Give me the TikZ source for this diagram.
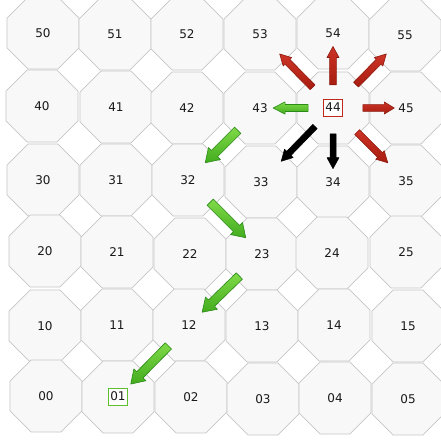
\documentclass[tikz,border=0pt]{standalone}
\usepackage{fontspec}
\setmainfont{DejaVu Sans}
\usetikzlibrary{shapes.geometric,calc}
\definecolor{octfill}{HTML}{F8F8F8}
\definecolor{octline}{HTML}{C6C6C6}
\definecolor{redtop}{HTML}{CC3426}
\definecolor{redbot}{HTML}{A81C10}
\definecolor{redline}{HTML}{8E1A10}
\definecolor{greentop}{HTML}{80DA48}
\definecolor{greenbot}{HTML}{42AC1E}
\definecolor{greenline}{HTML}{2A8A18}
\definecolor{boxred}{HTML}{C0281C}
\definecolor{boxgreen}{HTML}{5EC02E}
\newcommand\fatarr[8]{% style, from, to, start frac, end frac, half shaft, half head, head length
  \coordinate (t) at ($(#2)!#4!(#3)$);
  \coordinate (h) at ($(#2)!#5!(#3)$);
  \coordinate (nk) at ($(h)!#8!(t)$);
  \draw[#1] ($(t)!#6!90:(h)$) -- ($(nk)!#6!-90:(t)$) -- ($(nk)!#7!-90:(t)$) -- (h)
    -- ($(nk)!#7!90:(t)$) -- ($(nk)!#6!90:(t)$) -- ($(t)!#6!-90:(h)$) -- cycle;
}
\newcommand\cellbox[2]{{\setlength\fboxsep{1.8pt}\setlength\fboxrule{1pt}\fcolorbox{#1}{white}{\rule[-3pt]{0pt}{12.5pt}#2}}}
\begin{document}
\begin{tikzpicture}[x=1pt,y=-1pt,
  oct/.style={regular polygon, regular polygon sides=8, minimum size=78pt, inner sep=0pt,
    draw=octline, fill=octfill, line width=0.7pt, text=black!90, font=\fontsize{12}{14}\selectfont},
  redarr/.style={top color=redtop, bottom color=redbot, draw=redline, line width=0.6pt, line join=round},
  greenarr/.style={top color=greentop, bottom color=greenbot, draw=greenline, line width=0.6pt, line join=round},
  blackarr/.style={fill=black, draw=black, line width=0.5pt, line join=round}]
\useasboundingbox (0,0) rectangle (441,442);
% row 5
\node[oct] (n50) at (43,33) {50};
\node[oct] (n51) at (115,34) {51};
\node[oct] (n52) at (187,34) {52};
\node[oct] (n53) at (260,34) {53};
\node[oct] (n54) at (333,33) {54};
\node[oct] (n55) at (405,35) {55};
% row 4
\node[oct] (n40) at (42,106) {40};
\node[oct] (n41) at (116,107) {41};
\node[oct] (n42) at (187,108) {42};
\node[oct] (n43) at (260,108) {43};
\node[oct] (n44) at (333,108) {\cellbox{boxred}{44}};
\node[oct] (n45) at (406,108) {45};
% row 3
\node[oct] (n30) at (43,180) {30};
\node[oct] (n31) at (116,180) {31};
\node[oct] (n32) at (188,180) {32};
\node[oct] (n33) at (261,182) {33};
\node[oct] (n34) at (333,182) {34};
\node[oct] (n35) at (406,181) {35};
% row 2
\node[oct] (n20) at (45,251) {20};
\node[oct] (n21) at (117,252) {21};
\node[oct] (n22) at (190,254) {22};
\node[oct] (n23) at (262,254) {23};
\node[oct] (n24) at (332,253) {24};
\node[oct] (n25) at (406,252) {25};
% row 1
\node[oct] (n10) at (45,326) {10};
\node[oct] (n11) at (117,325) {11};
\node[oct] (n12) at (189,325) {12};
\node[oct] (n13) at (262,326) {13};
\node[oct] (n14) at (334,325) {14};
\node[oct] (n15) at (408,326) {15};
% row 0
\node[oct] (n00) at (46,396) {00};
\node[oct] (n01) at (118,397) {\cellbox{boxgreen}{01}};
\node[oct] (n02) at (191,397) {02};
\node[oct] (n03) at (263,399) {03};
\node[oct] (n04) at (335,398) {04};
\node[oct] (n05) at (408,399) {05};
% arrows from 44
\fatarr{redarr}{n44}{n54}{0.31}{0.82}{3.4pt}{6pt}{11pt}
\fatarr{redarr}{n44}{n53}{0.28}{0.73}{3.4pt}{6pt}{11pt}
\fatarr{redarr}{n44}{n55}{0.32}{0.74}{3.4pt}{6pt}{11pt}
\fatarr{redarr}{n44}{n45}{0.41}{0.84}{3.4pt}{6pt}{10pt}
\fatarr{redarr}{n44}{n35}{0.33}{0.75}{3.4pt}{6pt}{11pt}
\fatarr{blackarr}{n44}{n33}{0.25}{0.72}{3pt}{6pt}{11pt}
\fatarr{blackarr}{n44}{n34}{0.35}{0.82}{3pt}{6pt}{11pt}
\fatarr{greenarr}{n44}{n43}{0.34}{0.82}{3.5pt}{6.2pt}{12pt}
% green path
\fatarr{greenarr}{n43}{n32}{0.31}{0.76}{4.4pt}{8.5pt}{13pt}
\fatarr{greenarr}{n32}{n23}{0.30}{0.78}{4.4pt}{8.5pt}{13pt}
\fatarr{greenarr}{n23}{n12}{0.31}{0.82}{4.4pt}{8.5pt}{13pt}
\fatarr{greenarr}{n12}{n01}{0.29}{0.82}{4.4pt}{8.5pt}{13pt}
\end{tikzpicture}
\end{document}
